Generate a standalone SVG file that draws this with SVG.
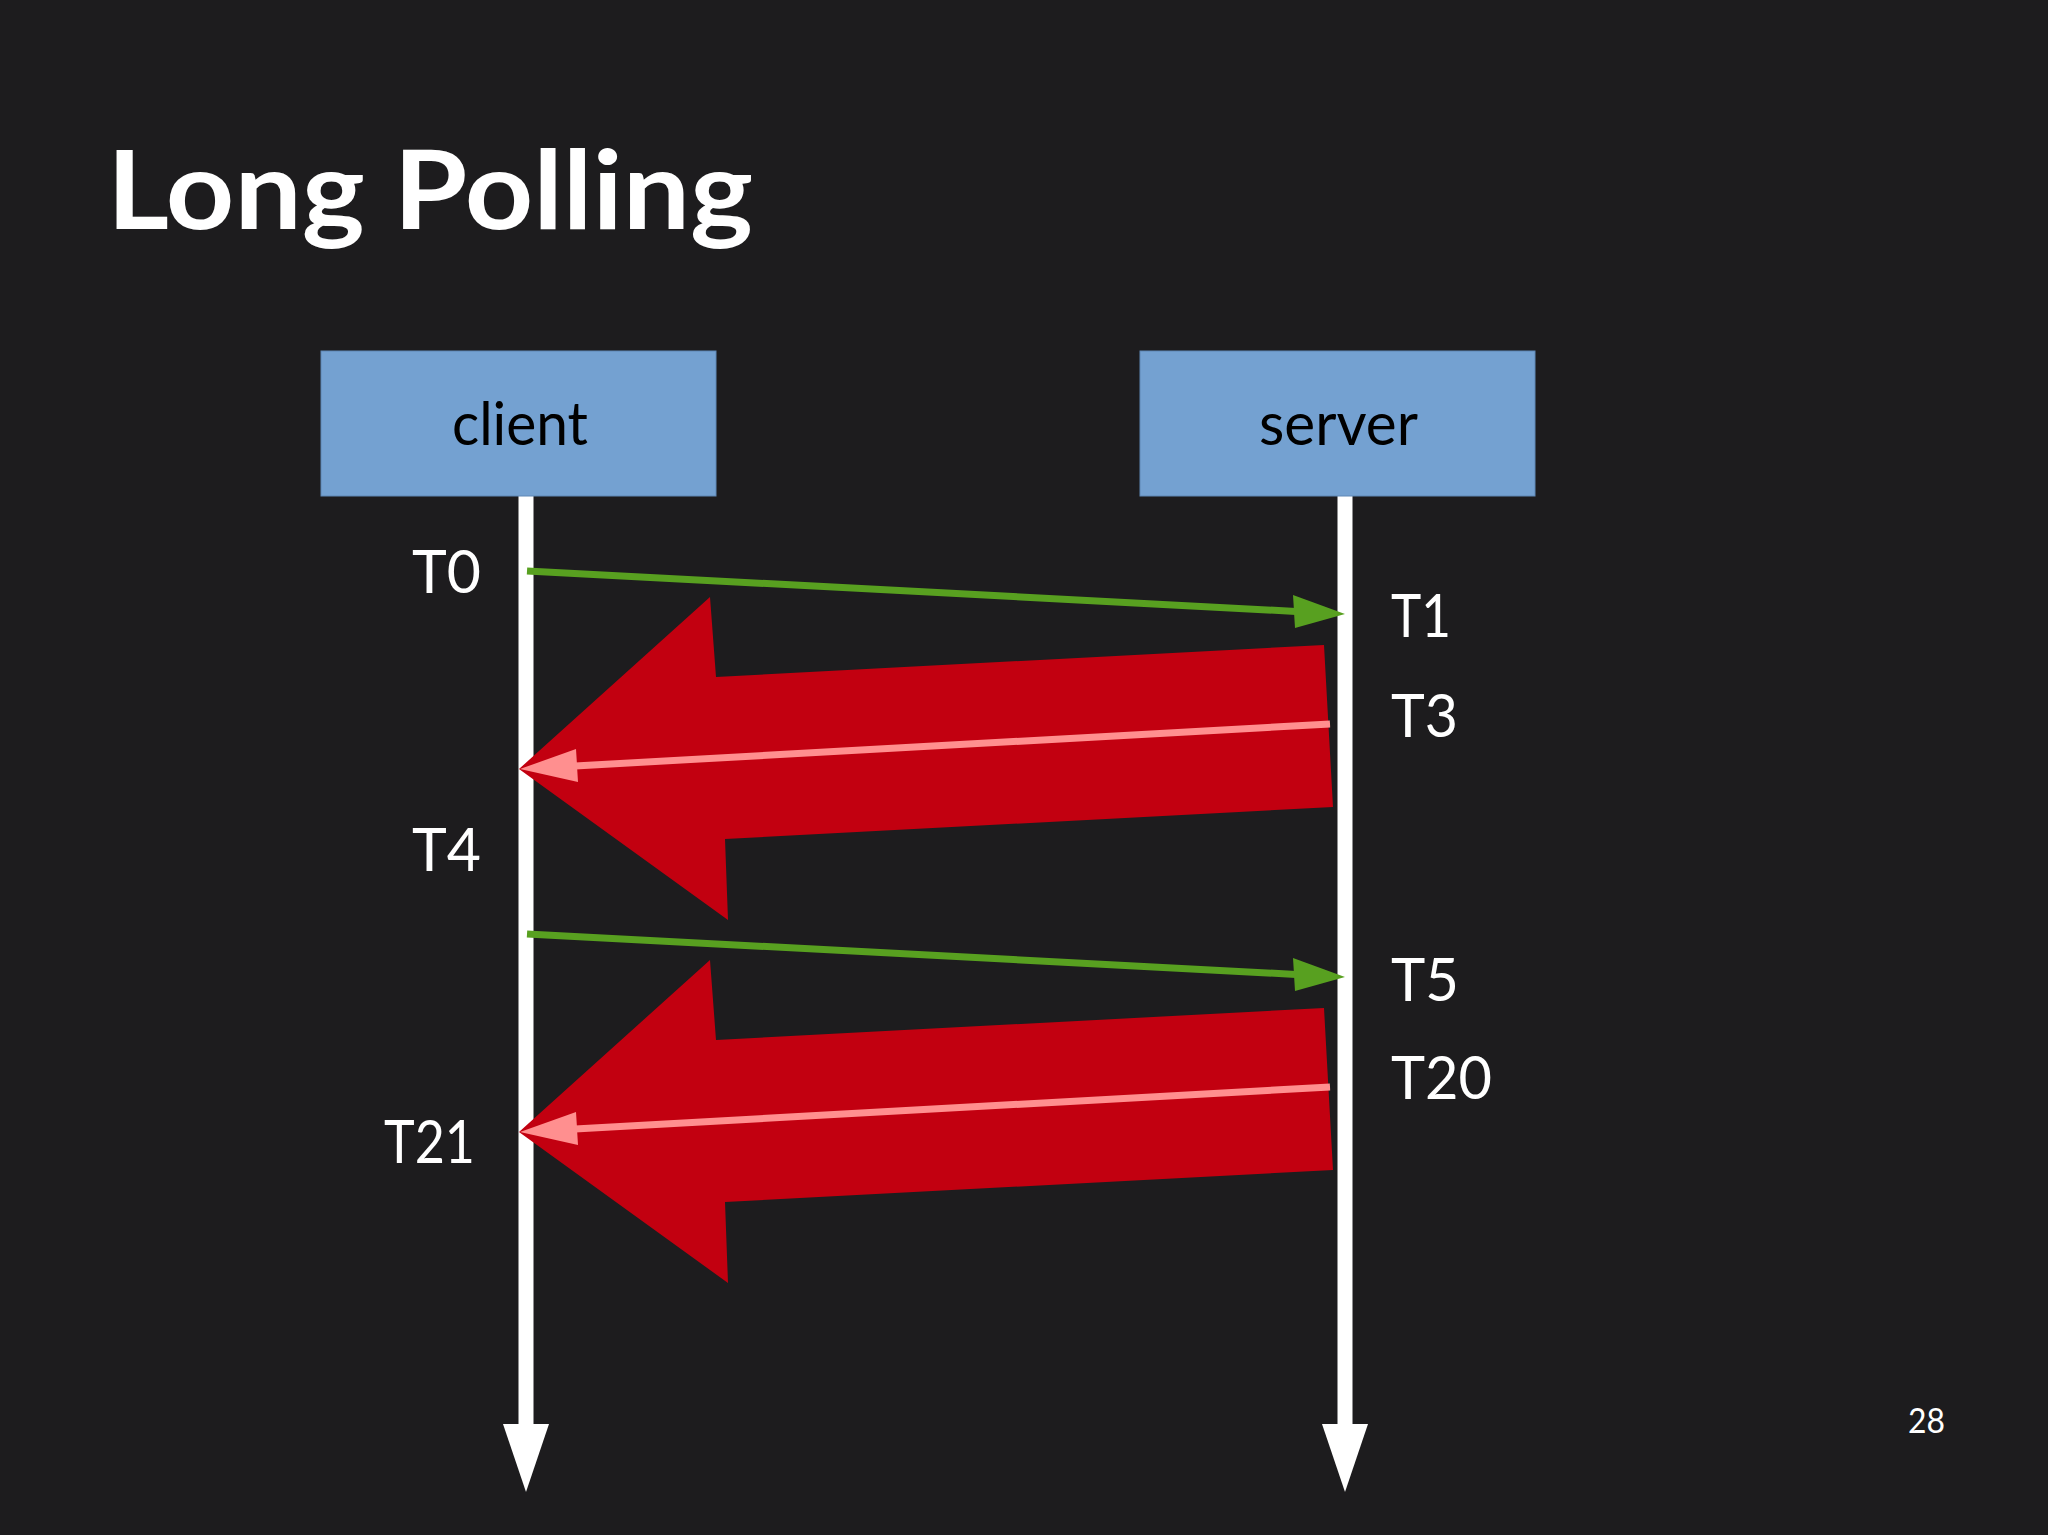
<svg xmlns="http://www.w3.org/2000/svg" width="2048" height="1535" viewBox="0 0 2048 1535">
<style>
.bg{fill:#1d1c1e}
.box{fill:#74a1d1;stroke:#5f87b5;stroke-width:1}
.boxlabel{font-family:Lato,"Liberation Sans",sans-serif;font-size:60px;fill:#000}
.tl{font-family:Lato,"Liberation Sans",sans-serif;font-size:60px;fill:#fff}
.title{font-family:Lato,"Liberation Sans",sans-serif;font-weight:bold;font-size:109px;fill:#fff}
.life{stroke:#fff;stroke-width:15;fill:none}
.lifehead{fill:#fff}
.req{stroke:#58a020;stroke-width:7;fill:none}
.reqhead{fill:#58a020}
.big{fill:#c20010}
.resp{stroke:#ff8f8f;stroke-width:7;fill:none}
.resphead{fill:#ff8f8f}
.pg{font-family:Lato,"Liberation Sans",sans-serif;font-size:34px;fill:#fff}
</style>
<rect class="bg" x="0" y="0" width="2048" height="1535"/>
<text class="title" x="107" y="229" textLength="646" lengthAdjust="spacingAndGlyphs">Long Polling</text>

<g id="connectors">
  <g id="lifelines">
    <line class="life" x1="526" y1="496" x2="526" y2="1426"/>
    <polygon class="lifehead" points="503,1424 549,1424 526,1492"/>
    <line class="life" x1="1345" y1="496" x2="1345" y2="1426"/>
    <polygon class="lifehead" points="1322,1424 1368,1424 1345,1492"/>
  </g>
  <g id="exchange1">
    <line class="req" x1="527" y1="571" x2="1296" y2="611.4"/>
    <polygon class="reqhead" points="1345,614 1293,595 1295,628"/>
    <polygon class="big" points="519,769 710,597 716,677 1324,645 1333,807 725,839 728,920"/>
    <line class="resp" x1="1330" y1="724" x2="575" y2="765.9"/>
    <polygon class="resphead" points="520,769 576,749 578,782"/>
  </g>
  <g id="exchange2" transform="translate(0,363)">
    <line class="req" x1="527" y1="571" x2="1296" y2="611.4"/>
    <polygon class="reqhead" points="1345,614 1293,595 1295,628"/>
    <polygon class="big" points="519,769 710,597 716,677 1324,645 1333,807 725,839 728,920"/>
    <line class="resp" x1="1330" y1="724" x2="575" y2="765.9"/>
    <polygon class="resphead" points="520,769 576,749 578,782"/>
  </g>
</g>

<g id="client">
  <rect class="box" x="321" y="351" width="395" height="145"/>
  <text class="boxlabel" x="452" y="445" textLength="136" lengthAdjust="spacingAndGlyphs">client</text>
</g>
<g id="server">
  <rect class="box" x="1140" y="351" width="395" height="145"/>
  <text class="boxlabel" x="1259" y="445" textLength="159" lengthAdjust="spacingAndGlyphs">server</text>
</g>

<g id="time-labels">
  <text class="tl" x="412" y="593" textLength="69" lengthAdjust="spacingAndGlyphs">T0</text>
  <text class="tl" x="412" y="871" textLength="69" lengthAdjust="spacingAndGlyphs">T4</text>
  <text class="tl" x="384" y="1163" textLength="91" lengthAdjust="spacingAndGlyphs">T21</text>
  <text class="tl" x="1391" y="637" textLength="60" lengthAdjust="spacingAndGlyphs">T1</text>
  <text class="tl" x="1391" y="737" textLength="67" lengthAdjust="spacingAndGlyphs">T3</text>
  <text class="tl" x="1391" y="1001" textLength="68" lengthAdjust="spacingAndGlyphs">T5</text>
  <text class="tl" x="1391" y="1099" textLength="101" lengthAdjust="spacingAndGlyphs">T20</text>
</g>
<text class="pg" x="1908" y="1433" textLength="37" lengthAdjust="spacingAndGlyphs">28</text>
</svg>
